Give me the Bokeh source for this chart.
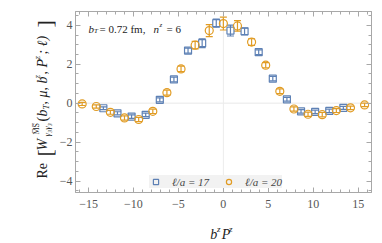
import math
from bokeh.plotting import figure
from bokeh.layouts import row, column
from bokeh.models import (ColumnDataSource, Whisker, TeeHead, Span, Label, Legend,
                          LegendItem, LinearAxis, FixedTicker, CustomJSTickFormatter, Range1d)
from bokeh.embed import file_html
from bokeh.resources import INLINE

# ---------------- data ----------------
bzpz_17 = [-13.35, -11.78, -10.21, -8.64, -7.07, -5.50, -3.93, -2.36, -0.79,
           0.79, 2.36, 3.93, 5.50, 7.07, 8.64, 10.21, 11.78, 13.35]
re_w_17 = [-0.26, -0.52, -0.69, -0.60, 0.17, 1.22, 2.70, 3.08, 4.11,
           3.73, 3.69, 2.62, 1.26, 0.20, -0.42, -0.45, -0.40, -0.24]
err_17 = [0.07, 0.08, 0.09, 0.09, 0.10, 0.12, 0.13, 0.23, 0.21,
          0.28, 0.17, 0.12, 0.11, 0.10, 0.09, 0.09, 0.09, 0.08]

bzpz_20 = [-15.71, -14.14, -12.57, -11.00, -9.42, -7.85, -6.28, -4.71, -3.14, -1.57, 0.0,
           1.57, 3.14, 4.71, 6.28, 7.85, 9.42, 11.00, 12.57, 14.14, 15.71]
re_w_20 = [-0.04, -0.17, -0.47, -0.76, -0.84, -0.42, 0.54, 1.76, 2.98, 3.73, 4.09,
           3.97, 3.14, 1.95, 0.61, -0.30, -0.57, -0.59, -0.38, -0.24, -0.09]
err_20 = [0.08, 0.08, 0.10, 0.11, 0.11, 0.11, 0.13, 0.14, 0.19, 0.31, 0.33,
          0.27, 0.17, 0.13, 0.12, 0.11, 0.11, 0.11, 0.10, 0.09, 0.09]

series_labels = ["ℓ/a = 17", "ℓ/a = 20"]
x_ticks = [-15, -10, -5, 0, 5, 10, 15]
x_tick_labels = ["−15", "−10", "−5", "0", "5", "10", "15"]
y_ticks = [-4, -2, 0, 2, 4]
y_tick_labels = ["−4", "−2", "0", "2", "4"]

BLUE = "#5E81B5"
ORANGE = "#E19C24"
FRAME = "#a8a8a8"
SERIF = "Liberation Serif"
TXT = "#222222"

PW, PH = 382, 243
X0, X1 = -16.45, 16.48
Y0, Y1 = -4.59, 4.71
FL, FT, FW, FH = 74, 11, 296, 181   # frame position in page pixels
LW = 56                              # width of the y-label strip
XH = 28                              # height of the x-label strip


def ix(px):
    return X0 + (px - FL) * (X1 - X0) / FW


def iy(py):
    return Y1 - (py - FT) * (Y1 - Y0) / FH


def lab(fig, text, x, y, size, style="normal", angle=0.0):
    fig.add_layout(Label(x=x, y=y, text=text, angle=angle,
                         text_font=SERIF, text_font_size=f"{size}px", text_font_style=style,
                         text_color=TXT, text_align="left", text_baseline="alphabetic"))


def blank_fig(w, h, xr, yr):
    f = figure(width=w, height=h, x_range=Range1d(*xr), y_range=Range1d(*yr),
               output_backend="svg", toolbar_location=None,
               x_axis_type=None, y_axis_type=None, min_border=0)
    f.min_border_left = f.min_border_right = f.min_border_top = f.min_border_bottom = 0
    f.outline_line_color = None
    f.xgrid.visible = False
    f.ygrid.visible = False
    return f


# ---------------- main plot ----------------
p = figure(frame_width=FW, frame_height=FH, x_range=Range1d(X0, X1), y_range=Range1d(Y0, Y1),
           output_backend="svg", toolbar_location=None,
           min_border_left=FL - LW, min_border_right=PW - FL - FW, min_border_top=FT,
           min_border_bottom=PH - XH - FT - FH,
           x_axis_type=None, y_axis_type=None)
p.outline_line_color = FRAME
p.xgrid.visible = False
p.ygrid.visible = False

x_minor = [float(v) for v in range(-16, 17)]
y_minor = [v * 0.5 for v in range(-9, 10)]


def style_axis(ax, show):
    ax.axis_line_color = FRAME
    ax.major_tick_line_color = FRAME
    ax.minor_tick_line_color = FRAME
    ax.major_tick_in = 5
    ax.major_tick_out = 0
    ax.minor_tick_in = 3
    ax.minor_tick_out = 0
    ax.major_label_text_font = SERIF
    ax.major_label_text_color = "#555555"
    if not show:
        ax.major_label_text_font_size = "0px"
        ax.major_label_standoff = 0
        ax.formatter = CustomJSTickFormatter(code="return ''")
    else:
        ax.major_label_text_font_size = "12px"


for loc in ["below", "above"]:
    ax = LinearAxis(ticker=FixedTicker(ticks=x_ticks, minor_ticks=x_minor))
    style_axis(ax, loc == "below")
    if loc == "below":
        ax.major_label_overrides = {t: s for t, s in zip(x_ticks, x_tick_labels)}
        ax.major_label_standoff = 7
    p.add_layout(ax, loc)

for loc in ["left", "right"]:
    ax = LinearAxis(ticker=FixedTicker(ticks=y_ticks, minor_ticks=y_minor))
    style_axis(ax, loc == "left")
    if loc == "left":
        ax.major_label_overrides = {t: s for t, s in zip(y_ticks, y_tick_labels)}
        ax.major_label_standoff = 3
    p.add_layout(ax, loc)

p.add_layout(Span(location=0, dimension="width", line_color="#e8e8e8", line_width=1, level="underlay"))
p.add_layout(Span(location=0, dimension="height", line_color="#ececec", line_width=1, level="underlay"))

renderers = []
for xs, ys, es, col, marker, size in [(bzpz_17, re_w_17, err_17, BLUE, "square", 7),
                                       (bzpz_20, re_w_20, err_20, ORANGE, "circle", 8)]:
    src = ColumnDataSource(dict(x=xs, y=ys,
                                lo=[a - b for a, b in zip(ys, es)],
                                hi=[a + b for a, b in zip(ys, es)]))
    w = Whisker(source=src, base="x", lower="lo", upper="hi", dimension="height",
                line_color=col, line_width=1.2,
                lower_head=TeeHead(size=7, line_color=col, line_width=1.2),
                upper_head=TeeHead(size=7, line_color=col, line_width=1.2))
    p.add_layout(w)
    r = p.scatter("x", "y", source=src, marker=marker, size=size, line_color=col,
                  line_width=1.2, fill_color="white", fill_alpha=0.0)
    renderers.append(r)

legend = Legend(items=[LegendItem(label=series_labels[0], renderers=[renderers[0]]),
                       LegendItem(label=series_labels[1], renderers=[renderers[1]])],
                orientation="horizontal", location=(74, 4))
legend.background_fill_color = "#f2f2f2"
legend.background_fill_alpha = 1.0
legend.border_line_color = None
legend.label_text_font = SERIF
legend.label_text_font_size = "11px"
legend.label_text_font_style = "italic"
legend.label_standoff = 10
legend.label_height = 13
legend.spacing = 13
legend.padding = 6
legend.margin = 0
legend.glyph_width = 13
legend.glyph_height = 13
p.add_layout(legend)

# top-left annotation (inside the frame)
lab(p, "b", ix(87), iy(28), 11, "italic")
lab(p, "T", ix(92.5), iy(30.5), 7, "italic")
lab(p, "= 0.72 fm,", ix(98), iy(28), 11)
lab(p, "n", ix(152), iy(28), 11, "italic")
lab(p, "z", ix(158), iy(24), 7, "italic")
lab(p, "= 6", ix(165), iy(28), 11)

# ---------------- y-axis label strip (page pixel coordinates, y measured up) ----------------
yl = blank_fig(LW, PH, (0, LW), (0, PH))
R = math.pi / 2
for text, bx, sy, size, style in [
    ("Re", 42, 178, 14, "normal"),
    ("[", 44, 156, 22, "normal"),
    ("W", 42, 150, 14, "italic"),
    ("M\u0305S\u0305", 36, 134, 8, "normal"),
    ("γ₃γ₃", 46, 136, 9, "italic"),
    ("(", 42, 121, 14, "normal"),
    ("b", 42, 116, 14, "italic"),
    ("T", 45, 109, 9, "italic"),
    (", μ, b", 42, 104, 14, "italic"),
    ("z", 36, 78, 9, "italic"),
    (", P", 42, 74, 14, "italic"),
    ("z", 36, 59, 9, "italic"),
    ("; ℓ)", 42, 54, 14, "italic"),
    ("]", 44, 27, 22, "normal"),
]:
    lab(yl, text, bx, PH - sy, size, style, R)

# ---------------- x-axis label strip (page pixel coordinates, y measured up) ----------------
xl = blank_fig(PW - LW, XH, (LW, PW), (0, XH))
for text, bx, by, size in [("b", 205, 234, 14), ("z", 212.5, 228, 9),
                           ("P", 217.5, 234, 14), ("z", 225.5, 228, 9)]:
    lab(xl, text, bx, PH - by, size, "italic")

layout = row(yl, column(p, xl, spacing=0), spacing=0)
open("out.html", "w").write(file_html(layout, INLINE))
